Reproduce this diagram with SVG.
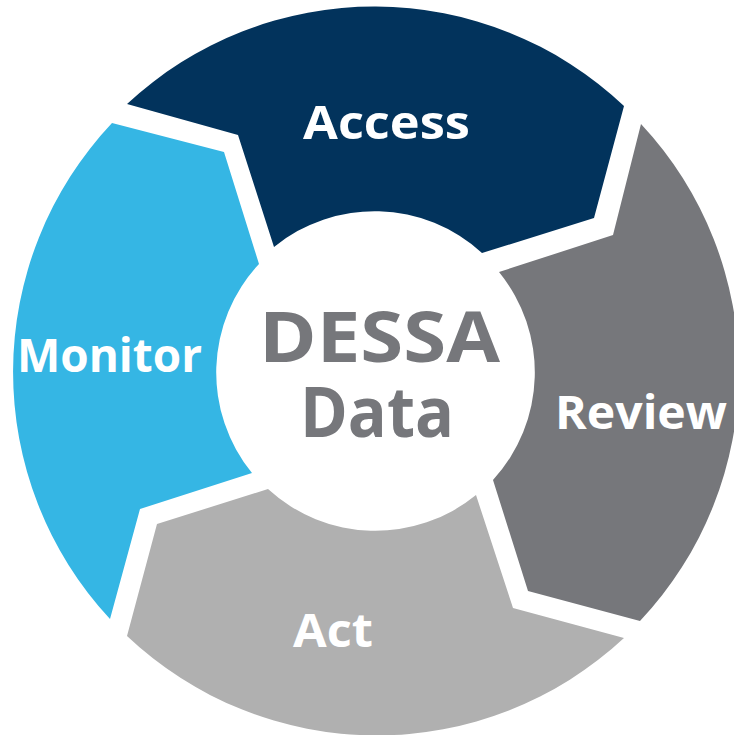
<svg xmlns="http://www.w3.org/2000/svg" width="734" height="735" viewBox="0 0 734 735">
<style>
.lbl{font-family:"Open Sans","Liberation Sans",sans-serif;font-weight:700;font-size:47px;fill:#ffffff;text-anchor:middle}
.ctr{font-family:"Open Sans","Liberation Sans",sans-serif;font-weight:700;font-size:70px;fill:#76777b;text-anchor:middle}
</style>
<rect width="734" height="735" fill="#ffffff"/>
<g id="connectors"></g>
<g id="access">
<path d="M127,104 A363,363 0 0 1 624,106 L594,218 L482,253 A159,159 0 0 0 274,247 L238,135 Z" fill="#02335c"/>
<text class="lbl" x="386.5" y="139" textLength="167" lengthAdjust="spacingAndGlyphs">Access</text>
</g>
<g id="review">
<path d="M641,124 A363,363 0 0 1 640,621 L528,591 L493,480 A159,159 0 0 0 499,272 L613,235 Z" fill="#76777b"/>
<text class="lbl" x="641" y="429" textLength="172" lengthAdjust="spacingAndGlyphs">Review</text>
</g>
<g id="act">
<path d="M624,638 A363,363 0 0 1 127,636 L157,524 L268,489 A159,159 0 0 0 476,495 L513,608 Z" fill="#b0b0b0"/>
<text class="lbl" x="333" y="647" textLength="80" lengthAdjust="spacingAndGlyphs">Act</text>
</g>
<g id="monitor">
<path d="M110,619 A363,363 0 0 1 112,123 L224,152 L259,264 A159,159 0 0 0 252,473 L140,509 Z" fill="#35b6e4"/>
<text class="lbl" x="109.5" y="372" textLength="185" lengthAdjust="spacingAndGlyphs">Monitor</text>
</g>
<g id="center">
<text class="ctr" x="379.5" y="362" textLength="241" lengthAdjust="spacingAndGlyphs">DESSA</text>
<text class="ctr" x="377" y="437" textLength="154" lengthAdjust="spacingAndGlyphs">Data</text>
</g>
</svg>
